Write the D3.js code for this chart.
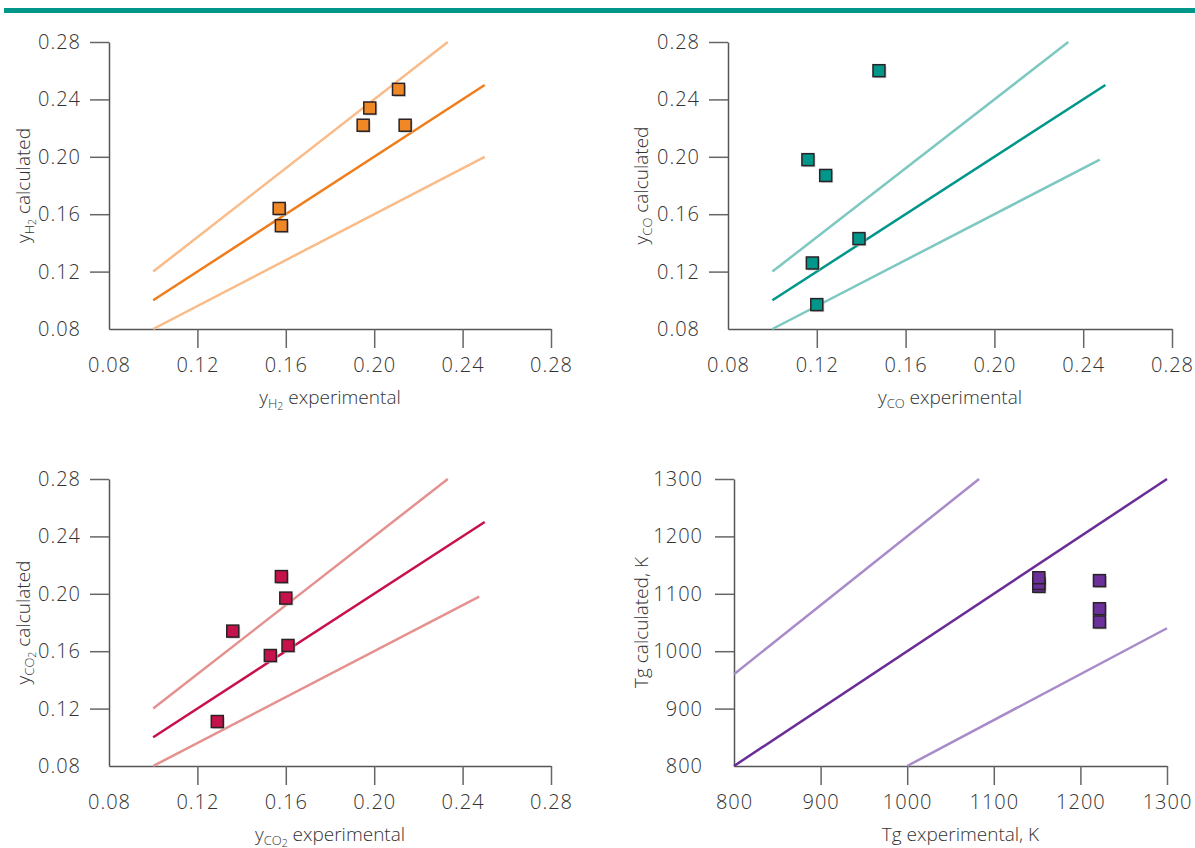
<!DOCTYPE html>
<html><head><meta charset="utf-8">
<script src="https://cdn.jsdelivr.net/npm/d3@7"></script>
<style>
body{margin:0;background:#fff;}
svg text{font-family:"Open Sans",Roboto,"Liberation Sans",sans-serif;font-weight:300;fill:#333;}
</style></head>
<body><svg id="c" width="1195" height="848"></svg>
<script>
// ---------- data ----------
const molTicks = [0.08, 0.12, 0.16, 0.20, 0.24, 0.28];
const tgTicks = [800, 900, 1000, 1100, 1200, 1300];

const h2Exp  = [0.157, 0.158, 0.195, 0.198, 0.211, 0.214];
const h2Calc = [0.164, 0.152, 0.222, 0.234, 0.247, 0.222];

const coExp  = [0.148, 0.116, 0.124, 0.139, 0.118, 0.120];
const coCalc = [0.260, 0.198, 0.187, 0.143, 0.126, 0.097];

const co2Exp  = [0.158, 0.160, 0.136, 0.153, 0.161, 0.129];
const co2Calc = [0.212, 0.197, 0.174, 0.157, 0.164, 0.111];

const tgExp  = [1152, 1152, 1152, 1222, 1222, 1222];
const tgCalc = [1113, 1118, 1128, 1123, 1074, 1051];

// reference lines: [x0,y0,x1,y1]
const molCentre = [0.10, 0.10, 0.25, 0.25];
const molUpper  = [0.10, 0.12, 0.2333, 0.28];
const molLower1 = [0.10, 0.08, 0.25, 0.20];
const molLower2 = [0.10, 0.08, 0.2475, 0.198];
const tgCentre = [800, 800, 1300, 1300];
const tgUpper  = [800, 960, 1083, 1300];
const tgLower  = [1000, 800, 1300, 1040];

const svg = d3.select("#c");
svg.append("rect").attr("x",4).attr("y",8).attr("width",1191).attr("height",5).attr("fill","#00968a");

function title(g, parts, attrs){
  const t = g.append("text");
  Object.entries(attrs).forEach(([k,v])=>t.attr(k,v));
  const sizes=[19,13,10.5], shifts=[0,4,5.5];
  let cur=0;
  parts.forEach(([s,l])=>{
    t.append("tspan").text(s).attr("font-size",sizes[l]).attr("dy",shifts[l]-cur);
    cur=shifts[l];
  });
  return t;
}

function panel(o){
  const g = svg.append("g");
  const x = d3.scaleLinear().domain(o.dom).range(o.xr);
  const y = d3.scaleLinear().domain(o.dom).range(o.yr);
  const fmt = o.fmt;
  const xa = g.append("g").attr("transform",`translate(0,${o.yr[0]})`)
    .call(d3.axisBottom(x).tickValues(o.ticks).tickFormat(fmt).tickSize(19).tickPadding(10).tickSizeOuter(0));
  const ya = g.append("g").attr("transform",`translate(${o.xr[0]},0)`)
    .call(d3.axisLeft(y).tickValues(o.ticks).tickFormat(fmt).tickSize(19).tickPadding(o.yPad).tickSizeOuter(0));
  [xa,ya].forEach(a=>{
    a.select(".domain").attr("stroke","#555").attr("stroke-width",1.5);
    a.selectAll(".tick line").attr("stroke","#666").attr("stroke-width",1.5);
    a.selectAll(".tick").filter(d=>d===o.ticks[0]).select("line").remove();
    a.selectAll(".tick text").attr("font-size",20).attr("letter-spacing",1).attr("fill","#333")
      .attr("font-family","'Open Sans',sans-serif");
  });
  const lines=[[o.upper,o.light],[o.lower,o.light],[o.centre,o.dark]];
  lines.forEach(([l,c])=>{
    g.append("line").attr("x1",x(l[0])).attr("y1",y(l[1])).attr("x2",x(l[2])).attr("y2",y(l[3]))
      .attr("stroke",c).attr("stroke-width",2.5);
  });
  const pts = o.xs.map((v,i)=>[v,o.ys[i]]);
  const s=12;
  g.selectAll(".sh").data(pts).join("rect")
    .attr("x",d=>x(d[0])-s/2+1.5).attr("y",d=>y(d[1])-s/2+1.5).attr("width",s).attr("height",s)
    .attr("fill","#bbb").attr("opacity",0.7);
  g.selectAll(".pt").data(pts).join("rect")
    .attr("x",d=>x(d[0])-s/2).attr("y",d=>y(d[1])-s/2).attr("width",s).attr("height",s)
    .attr("fill",o.fill).attr("stroke","#2a2226").attr("stroke-width",1.5);
  const cx=(o.xr[0]+o.xr[1])/2+(o.xOff||0), cy=(o.yr[0]+o.yr[1])/2;
  title(g,o.xt,{x:cx,y:o.yr[0]+75,"text-anchor":"middle"});
  title(g,o.yt,{transform:`translate(${o.ytx},${cy}) rotate(-90)`,"text-anchor":"middle"});
}
const f2=d3.format(".2f"), f0=d3.format("d");
panel({dom:[0.08,0.28],ticks:molTicks,fmt:f2,xr:[109,551],yr:[329,42],yPad:9,
  xs:h2Exp,ys:h2Calc,centre:molCentre,upper:molUpper,lower:molLower1,
  dark:"#f07d1c",light:"#f9bb88",fill:"#f08826",
  xt:[["y",0],["H",1],["2",2],[" experimental",0]],yt:[["y",0],["H",1],["2",2],[" calculated",0]],ytx:30});
panel({dom:[0.08,0.28],ticks:molTicks,fmt:f2,xr:[728,1172],yr:[329,42],yPad:9,
  xs:coExp,ys:coCalc,centre:molCentre,upper:molUpper,lower:molLower2,
  dark:"#00968a",light:"#7ec8c2",fill:"#00968a",
  xt:[["y",0],["CO",1],[" experimental",0]],yt:[["y",0],["CO",1],[" calculated",0]],ytx:648});
panel({dom:[0.08,0.28],ticks:molTicks,fmt:f2,xr:[109,551],yr:[766,479],yPad:9,
  xs:co2Exp,ys:co2Calc,centre:molCentre,upper:molUpper,lower:molLower2,
  dark:"#c8104a",light:"#e4918f",fill:"#c6124a",
  xt:[["y",0],["CO",1],["2",2],[" experimental",0]],yt:[["y",0],["CO",1],["2",2],[" calculated",0]],ytx:30});
panel({dom:[800,1300],ticks:tgTicks,fmt:f0,xr:[734,1167],yr:[766,479],yPad:12,xOff:10,
  xs:tgExp,ys:tgCalc,centre:tgCentre,upper:tgUpper,lower:tgLower,
  dark:"#6a2c96",light:"#a98bc9",fill:"#6b309a",
  xt:[["Tg experimental, K",0]],yt:[["Tg calculated, K",0]],ytx:648});
</script></body></html>
